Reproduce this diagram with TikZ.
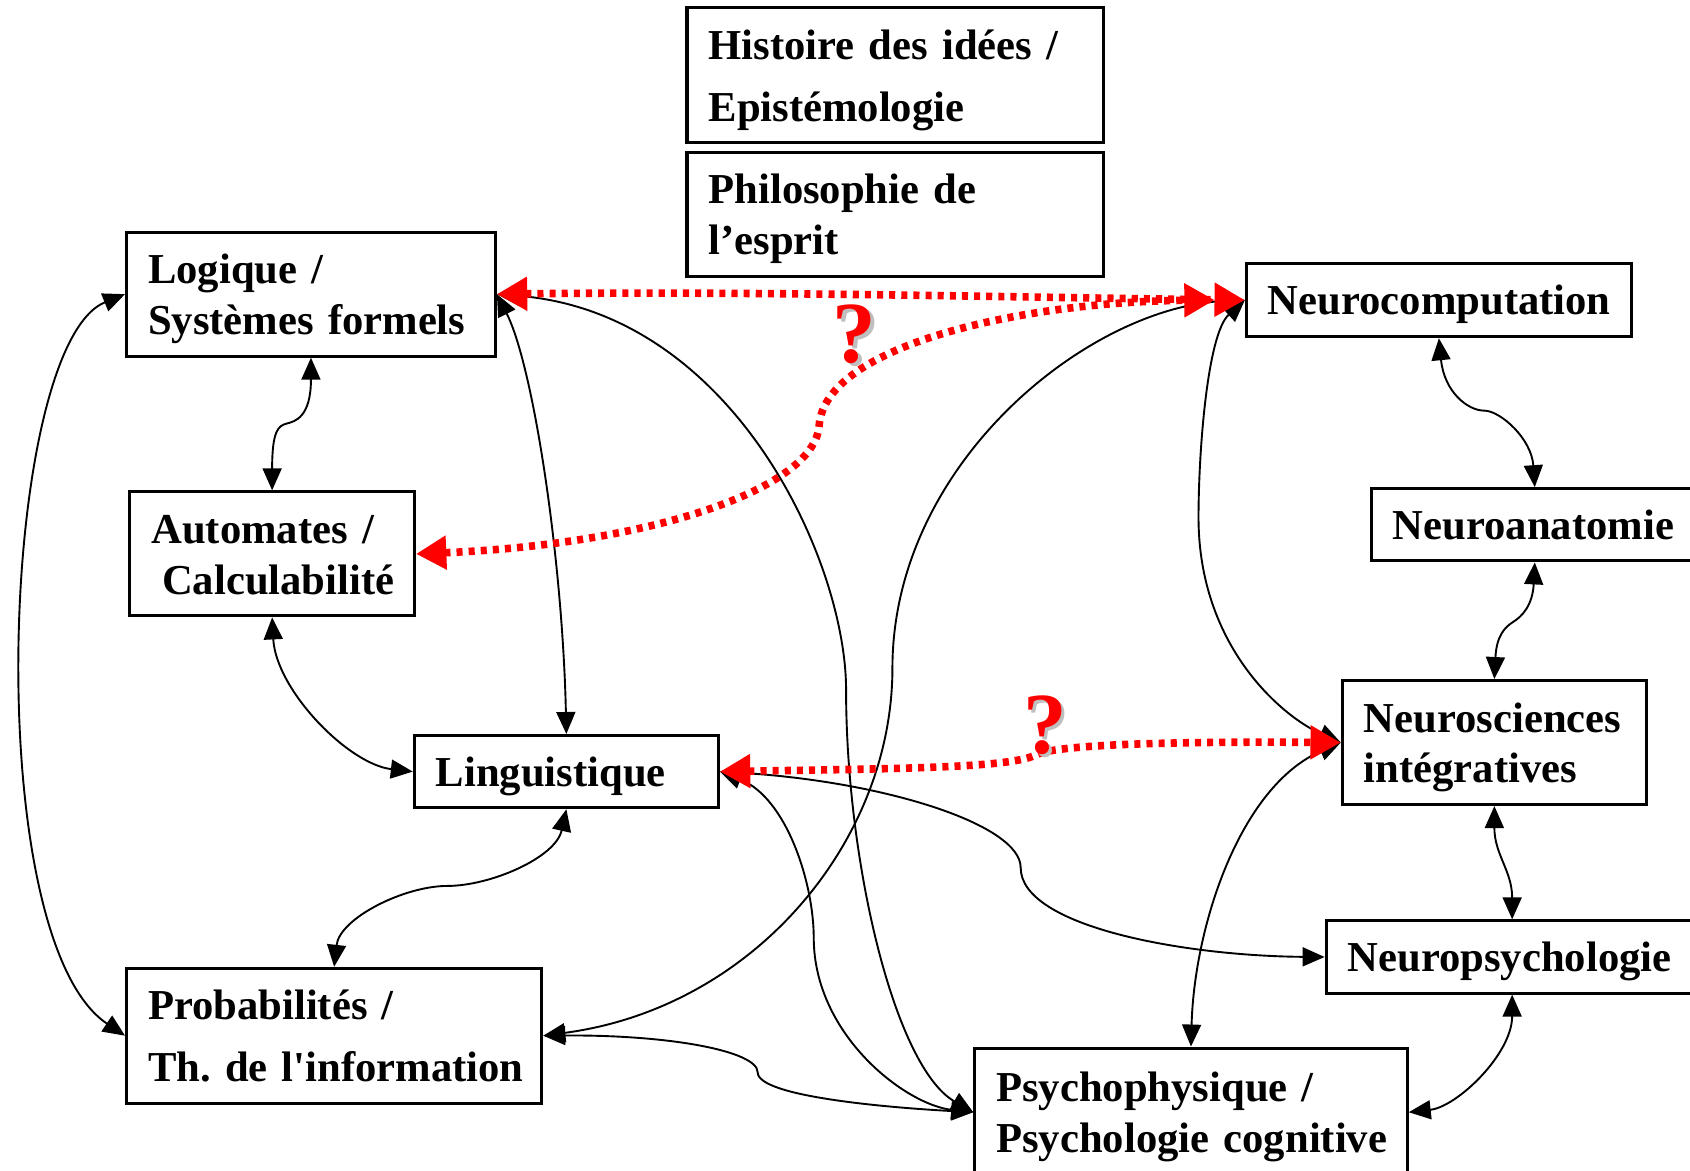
\documentclass[tikz,border=0pt]{standalone}
\usepackage{fontspec}
\newfontfamily\mainf{Liberation Serif}
\usetikzlibrary{arrows.meta}
\frenchspacing
\begin{document}
\begin{tikzpicture}[x=0.01cm,y=-0.01cm,
  box/.style={draw, line width=0.8pt, rectangle, anchor=north west, inner xsep=0.2cm, inner ysep=0pt, align=left, font=\mainf\bfseries\fontsize{11.25}{13.4}\selectfont},
  one/.style={text depth=0pt},
  two/.style={text height=8pt, text depth=13.5pt},
  wide/.style={font=\mainf\bfseries\fontsize{11.25}{16.2}\selectfont, text height=8pt, text depth=16.3pt},
  conn/.style={line width=0.5pt, {Triangle[length=5.8pt,width=5pt]}-{Triangle[length=5.8pt,width=5pt]}},
  rconn/.style={red, line width=2pt, dash pattern=on 1.6pt off 1.6pt, {Triangle[length=8pt,width=8.5pt]}-{Triangle[length=8pt,width=8.5pt]}},
  qmark/.style={font=\mainf\bfseries\fontsize{23}{23}\selectfont, text=red, inner sep=0pt}]
\useasboundingbox (0,0) rectangle (1568,1086);

% boxes
\node[box, wide, text width=3.46cm, minimum height=1.25cm] (histoire) at (636,6) {\mbox{Histoire des idées /}\\\mbox{Epistémologie}};
\node[box, two, text width=3.46cm, minimum height=1.15cm] (philo) at (636,140) {\mbox{Philosophie de}\\\mbox{l’esprit}};
\node[box, two, text width=3.02cm, minimum height=1.15cm] (logique) at (116,214) {\mbox{Logique /}\\\mbox{Systèmes formels}};
\node[box, two, text width=2.24cm, minimum height=1.15cm] (automates) at (119,455) {\mbox{Automates /}\\\mbox{\hspace*{0.1cm}Calculabilité}};
\node[box, one, text width=2.42cm, minimum height=0.67cm] (ling) at (383,681) {\mbox{Linguistique}};
\node[box, wide, text width=3.45cm, minimum height=1.25cm] (proba) at (116,897) {\mbox{Probabilités /}\\\mbox{Th. de l'information}};
\node[box, two, text width=3.61cm, minimum height=1.19cm] (psycho) at (903,971) {\mbox{Psychophysique /}\\\mbox{Psychologie cognitive}};
\node[box, one, text width=3.17cm, minimum height=0.68cm] (ncomp) at (1155,243) {\mbox{Neurocomputation}};
\node[box, one, text width=2.63cm, minimum height=0.67cm] (nanat) at (1271,452) {\mbox{Neuroanatomie}};
\node[box, two, text width=2.42cm, minimum height=1.15cm] (nsci) at (1244,630) {\mbox{Neurosciences}\\\mbox{intégratives}};
\node[box, one, text width=3.05cm, minimum height=0.67cm] (npsy) at (1229,853) {\mbox{Neuropsychologie}};

% black connectors
\draw[conn] (logique.south) .. controls +(0,55) and +(8,-2) .. (266,393) .. controls +(-8,2) and +(0,-55) .. (automates.north);
\draw[conn] (logique.west) .. controls (0,320) and (-20,870) .. (proba.west);
\draw[conn] (automates.south) .. controls (256,640) and (323,709) .. (ling.west);
\draw[conn] (ling.south) .. controls +(-10,45) and +(40,0) .. (415,822) .. controls +(-40,0) and +(5,-45) .. (proba.north);
\draw[conn] (logique.east) .. controls (495,340) and (522,520) .. (ling.north);
\draw[conn] (logique.east) .. controls (680,290) and (785,520) .. (785,640) .. controls (785,800) and (830,990) .. (psycho.west);
\draw[conn] (ling.east) .. controls (730,740) and (755,820) .. (755,870) .. controls (755,960) and (840,1025) .. (psycho.west);
\draw[conn] (ling.east) .. controls (820,725) and (947,765) .. (947,805) .. controls (947,860) and (1100,887) .. (npsy.west);
\draw[conn] (proba.east) .. controls (700,935) and (828,780) .. (828,620) .. controls (828,430) and (1010,285) .. (ncomp.west);
\draw[conn] (proba.east) .. controls (620,960) and (703,975) .. (703,995) .. controls (703,1018) and (830,1028) .. (psycho.west);
\draw[conn] (ncomp.west) .. controls (1120,310) and (1112,420) .. (1112,480) .. controls (1112,600) and (1190,665) .. (nsci.west);
\draw[conn] (nsci.west) .. controls (1150,730) and (1108,860) .. (psycho.north);
\draw[conn] (ncomp.south) .. controls +(5,50) and +(-15,0) .. (1377,381) .. controls +(15,0) and +(-3,-45) .. (nanat.north);
\draw[conn] (nanat.south) .. controls +(-2,40) and +(8,-5) .. (1404,577) .. controls +(-8,5) and +(2,-40) .. (nsci.north);
\draw[conn] (nsci.south) .. controls +(0,45) and +(0,-45) .. (npsy.north);
\draw[conn] (npsy.south) .. controls +(0,55) and +(45,-5) .. (psycho.east);

% red dotted connectors
\draw[rconn] (logique.east) .. controls (700,270) and (950,276) .. (ncomp.west);
\draw[rconn] (automates.east) .. controls (600,505) and (755,455) .. (760,395) .. controls (765,320) and (950,280) .. ([xshift=-0.28cm]ncomp.west);
\draw[rconn] (ling.east) .. controls (850,713) and (940,712) .. (962,700) .. controls (985,690) and (1100,688) .. (nsci.west);

% question marks
\node[qmark, text=gray!50] (q1s) at (796,313) {?};
\node[qmark] (q1) at (793,310) {?};
\node[qmark, text=gray!50] (q2s) at (973,676) {?};
\node[qmark] (q2) at (970,673) {?};
\end{tikzpicture}
\end{document}
